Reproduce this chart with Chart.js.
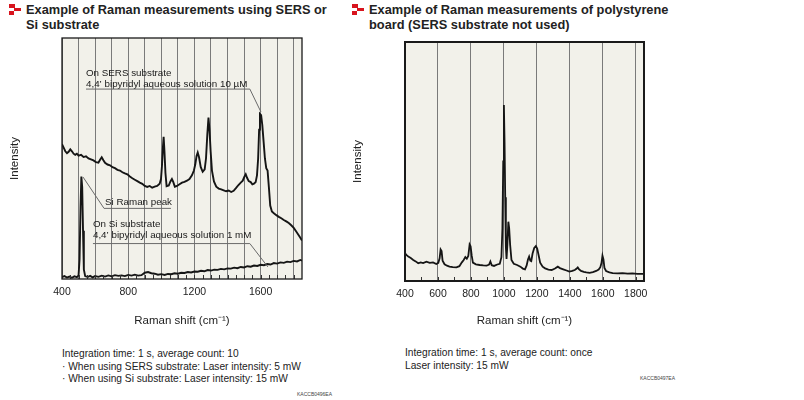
<!DOCTYPE html>
<html>
<head>
<meta charset="utf-8">
<script src="https://cdn.jsdelivr.net/npm/chart.js@4.4.1/dist/chart.umd.min.js"></script>
<style>
body{margin:0;background:#fff;font-family:"Liberation Sans",Arial,sans-serif;color:#222}
#wrap{position:relative;width:804px;height:400px;overflow:hidden}
canvas{position:absolute;top:0}
.ttl{position:absolute;font-weight:bold;font-size:12.8px;line-height:15px;color:#222;white-space:nowrap}
.icon{position:absolute;width:12px;height:11px}
.icon i{position:absolute;background:#d8141e}
.note{position:absolute;font-size:10.2px;line-height:12.6px;white-space:nowrap}
.code{position:absolute;font-size:5px;color:#444}
</style>
</head>
<body>
<div id="wrap">
  <div class="icon" style="left:9px;top:4px"><i style="left:0;top:0;width:6px;height:4px"></i><i style="left:5px;top:4px;width:7px;height:3px"></i><i style="left:0;top:7px;width:5px;height:4px"></i></div>
  <div class="ttl" style="left:26px;top:2px">Example of Raman measurements using SERS or<br>Si substrate</div>
  <div class="icon" style="left:352px;top:4px"><i style="left:0;top:0;width:6px;height:4px"></i><i style="left:5px;top:4px;width:7px;height:3px"></i><i style="left:0;top:7px;width:5px;height:4px"></i></div>
  <div class="ttl" style="left:369px;top:2px">Example of Raman measurements of polystyrene<br>board (SERS substrate not used)</div>

  <canvas id="leftChart" width="340" height="340" style="left:0"></canvas>
  <canvas id="rightChart" width="340" height="340" style="left:343px"></canvas>

  <div class="note" style="left:62px;top:348px">Integration time: 1 s, average count: 10<br>· When using SERS substrate: Laser intensity: 5 mW<br>· When using Si substrate: Laser intensity: 15 mW</div>
  <div class="note" style="left:405px;top:347px">Integration time: 1 s, average count: once<br>Laser intensity: 15 mW</div>
  <div class="code" style="left:297px;top:391px">KACCB0496EA</div>
  <div class="code" style="left:640px;top:375px">KACCB0497EA</div>
</div>
<script>
// SERS substrate, 4,4' bipyridyl 10 uM
var sersShift = [400,410,420,430,440,450,460,470,480,490,500,515,530,545,560,575,590,605,620,630,640,650,660,675,690,705,720,735,750,765,780,795,810,825,840,855,870,885,900,915,930,945,960,975,990,998,1004,1010,1014,1019,1025,1032,1045,1055,1064,1072,1082,1095,1110,1125,1140,1155,1170,1185,1197,1205,1213,1220,1228,1238,1250,1262,1270,1278,1285,1291,1298,1306,1318,1332,1347,1362,1377,1392,1407,1422,1437,1452,1466,1480,1492,1502,1510,1518,1528,1540,1550,1560,1570,1578,1585,1591,1596,1603,1610,1618,1626,1634,1642,1650,1658,1668,1680,1695,1710,1725,1740,1755,1770,1785,1800,1812,1824,1836,1850];
var sersIntensity = [56,54.5,53,52.2,52.8,53.8,53,52,51.5,52,51.2,51.5,50.6,50.9,50,49.6,49.2,48.5,48.3,49.5,50.5,49.3,48.2,47.5,47.2,46.4,46,45.3,45,44.3,43.8,43.4,42.5,41.8,41.2,40.6,40,39.5,38.6,38.2,38.6,37.9,38.3,38.6,39.5,41.5,47,55,59,53,44,38.5,38.8,40.5,41.5,40.3,38.3,38.6,39.3,40,40.3,40.8,41.5,43,45,47.5,51,52.5,50.5,46.5,44.5,45.5,50,60,67,62,53,45,40.5,38.3,37.5,37.2,36.8,36.4,36.7,36.1,36.6,37.8,39,40,40.8,42.5,43.5,42,40.6,40.2,39.3,39.6,40.2,43,50,62,68.5,68,64,57,50,46,45,38,30.5,28,27.3,26.5,25.8,25.2,24.5,23.9,23.2,22.3,21.2,20,18.8,17.5,16];

// Si substrate, 4,4' bipyridyl 1 mM
var siShift = [400,415,430,445,460,475,490,500,506,512,517,522,527,532,540,555,570,585,600,620,640,660,680,700,720,740,760,780,800,820,840,860,880,900,920,940,960,980,1000,1020,1040,1060,1080,1100,1120,1140,1160,1180,1200,1220,1240,1260,1280,1300,1320,1340,1360,1380,1400,1420,1440,1460,1480,1500,1520,1540,1560,1580,1600,1620,1640,1660,1680,1700,1720,1740,1760,1780,1800,1820,1840,1850];
var siIntensity = [0.8,1.2,0.6,1.0,0.5,1.1,0.8,1.5,8,30,42.5,38,20,4,1.2,0.8,1.3,0.7,1.2,0.9,1.4,1.0,1.5,1.1,1.6,1.3,1.5,1.2,1.7,1.4,1.8,1.4,1.6,2.6,2.9,2.4,2.2,1.8,2.0,1.7,2.1,2.0,2.4,2.2,2.6,2.5,2.9,2.7,3.1,3.0,3.4,3.2,3.7,3.5,3.9,3.8,4.2,4.0,4.4,4.3,4.7,4.5,5.0,4.8,5.3,5.1,5.6,5.4,5.9,5.7,6.2,6.0,6.6,6.4,6.9,6.7,7.2,7.0,7.5,7.3,7.9,7.6];

// polystyrene board
var psShift = [400,410,420,435,450,465,480,495,510,530,550,570,590,602,610,616,622,628,640,655,670,690,712,730,745,756,766,775,784,792,798,805,812,830,853,875,895,910,918,926,940,960,975,985,991,996,1000,1004,1008,1012,1016,1021,1027,1032,1038,1046,1060,1080,1100,1115,1128,1138,1146,1153,1160,1166,1174,1184,1194,1202,1210,1220,1235,1250,1270,1290,1310,1327,1340,1360,1380,1397,1415,1430,1440,1448,1455,1468,1485,1500,1520,1540,1560,1575,1585,1592,1598,1604,1610,1620,1640,1660,1690,1720,1750,1780,1810,1850];
var psIntensity = [11.6,10.8,10.2,9.6,8.8,8.2,7.4,7.8,7.5,8.1,7.6,7.8,7.1,7.6,9.5,13.2,12.5,8.5,7.0,6.4,6.0,5.8,5.7,6.2,7.8,8.8,10,9.3,10.5,15.3,14.5,10.5,7.7,7.0,6.7,6.5,6.4,6.9,8.2,6.6,6.3,6.9,7.2,10,22,50,73.6,58,35,14,9.2,15,24.8,22,15,8.8,7.2,6.7,6.0,5.2,4.9,6.5,9,10.2,8.5,8.3,11.5,13.8,14.6,13.6,11,7.7,6,5.3,4.8,4.6,5.2,6.0,5.4,4.9,4.4,3.9,4.2,4.6,5.1,5.7,5.0,4.2,3.8,3.6,3.4,3.7,4.2,4.8,5.8,7.5,10.6,9,5.5,4.2,3.6,3.3,3.2,3.3,3.1,3.2,3.0,3.0];

var leftTickLabels = [400, 800, 1200, 1600];
var rightTickLabels = [400, 600, 800, 1000, 1200, 1400, 1600, 1800];

var sersLabel = ['On SERS substrate', '4,4’ bipyridyl aqueous solution 10 µM'];
var siPeakLabel = ['Si Raman peak'];
var siLabel = ['On Si substrate', '4,4’ bipyridyl aqueous solution 1 mM'];

var fontName = '"Liberation Sans", Arial, sans-serif';

function pts(xs, ys) {
    return xs.map(function (x, i) { return {x: x, y: ys[i]}; });
}

var plotBack = {
    id: 'plotBack',
    beforeDraw: function (chart) {
        var a = chart.chartArea, ctx = chart.ctx;
        ctx.save();
        ctx.fillStyle = '#f2f1ea';
        ctx.fillRect(a.left, a.top, a.right - a.left, a.bottom - a.top);
        ctx.restore();
    }
};

var frame = {
    id: 'frame',
    afterDraw: function (chart, args, opts) {
        var a = chart.chartArea, ctx = chart.ctx, x = chart.scales.x;
        ctx.save();
        // small ticks along the bottom edge
        ctx.strokeStyle = '#333';
        ctx.lineWidth = 1;
        ctx.beginPath();
        for (var v = 400 + opts.minor; v < 1850; v += opts.minor) {
            var px = Math.round(x.getPixelForValue(v)) + 0.5;
            ctx.moveTo(px, a.bottom);
            ctx.lineTo(px, a.bottom - 4);
        }
        ctx.stroke();
        ctx.strokeStyle = '#1a1a1a';
        ctx.lineWidth = opts.width;
        ctx.strokeRect(a.left, a.top, a.right - a.left, a.bottom - a.top);
        ctx.restore();
    }
};

// callouts on the left chart, positioned in data units
var callouts = {
    id: 'callouts',
    afterDatasetsDraw: function (chart) {
        var ctx = chart.ctx, sx = chart.scales.x, sy = chart.scales.y;
        function X(v) { return sx.getPixelForValue(v); }
        function Y(v) { return sy.getPixelForValue(v); }
        var items = [
            {lines: sersLabel, x: 545, y: 85.5, line: [[545, 78.8], [1535, 78.8], [1602, 69.3]]},
            {lines: siPeakLabel, x: 660, y: 32, line: [[1058, 29.3], [654, 29.3], [527, 42.3]]},
            {lines: siLabel, x: 587, y: 22.8, line: [[587, 14.7], [1535, 14.7], [1644, 5]]}
        ];
        ctx.save();
        ctx.font = '9.8px ' + fontName;
        ctx.fillStyle = '#1a1a1a';
        ctx.textBaseline = 'middle';
        ctx.strokeStyle = '#6a6a6a';
        ctx.lineWidth = 1;
        items.forEach(function (it) {
            it.lines.forEach(function (t, i) {
                ctx.fillText(t, X(it.x), Y(it.y) + i * 11.5);
            });
            ctx.beginPath();
            it.line.forEach(function (p, i) {
                if (i === 0) ctx.moveTo(X(p[0]), Y(p[1]));
                else ctx.lineTo(X(p[0]), Y(p[1]));
            });
            ctx.stroke();
        });
        ctx.restore();
    }
};

function makeOptions(step, labels, padTop, padRight, axisH, frameW, minor) {
    return {
        responsive: false,
        animation: false,
        layout: {padding: {top: padTop, right: padRight, left: 0, bottom: 0}},
        plugins: {
            legend: {display: false},
            tooltip: {enabled: false},
            frame: {width: frameW, minor: minor}
        },
        scales: {
            x: {
                type: 'linear',
                min: 400,
                max: 1850,
                ticks: {
                    stepSize: step,
                    includeBounds: false,
                    autoSkip: false,
                    maxRotation: 0,
                    padding: 7,
                    color: '#222',
                    font: {family: fontName, size: 10.5},
                    callback: function (v) { return labels.indexOf(v) >= 0 ? String(v) : ''; }
                },
                grid: {color: '#7a7a7a', lineWidth: 1, drawTicks: false},
                border: {display: false},
                title: {
                    display: true,
                    text: 'Raman shift (cm⁻¹)',
                    color: '#222',
                    font: {family: fontName, size: 11.5},
                    padding: {top: 0, bottom: 12}
                },
                afterFit: function (s) { s.height = axisH; }
            },
            y: {
                min: 0,
                max: 100,
                ticks: {display: false},
                grid: {display: false},
                border: {display: false},
                title: {
                    display: true,
                    text: 'Intensity',
                    color: '#222',
                    font: {family: fontName, size: 11.5},
                    padding: {top: 8}
                },
                afterFit: function (s) { s.width = 62; }
            }
        }
    };
}

new Chart(document.getElementById('leftChart'), {
    type: 'line',
    data: {
        datasets: [{
            data: pts(sersShift, sersIntensity),
            borderColor: '#151515',
            borderWidth: 1.9,
            pointRadius: 0,
            tension: 0
        }, {
            data: pts(siShift, siIntensity),
            borderColor: '#151515',
            borderWidth: 1.9,
            pointRadius: 0,
            tension: 0
        }]
    },
    options: makeOptions(100, leftTickLabels, 38, 38, 61, 1.3, 50),
    plugins: [plotBack, frame, callouts]
});

new Chart(document.getElementById('rightChart'), {
    type: 'line',
    data: {
        datasets: [{
            data: pts(psShift, psIntensity),
            borderColor: '#151515',
            borderWidth: 1.8,
            pointRadius: 0,
            tension: 0
        }]
    },
    options: makeOptions(200, rightTickLabels, 42, 39, 59, 2, 100),
    plugins: [plotBack, frame]
});
</script>
</body>
</html>
